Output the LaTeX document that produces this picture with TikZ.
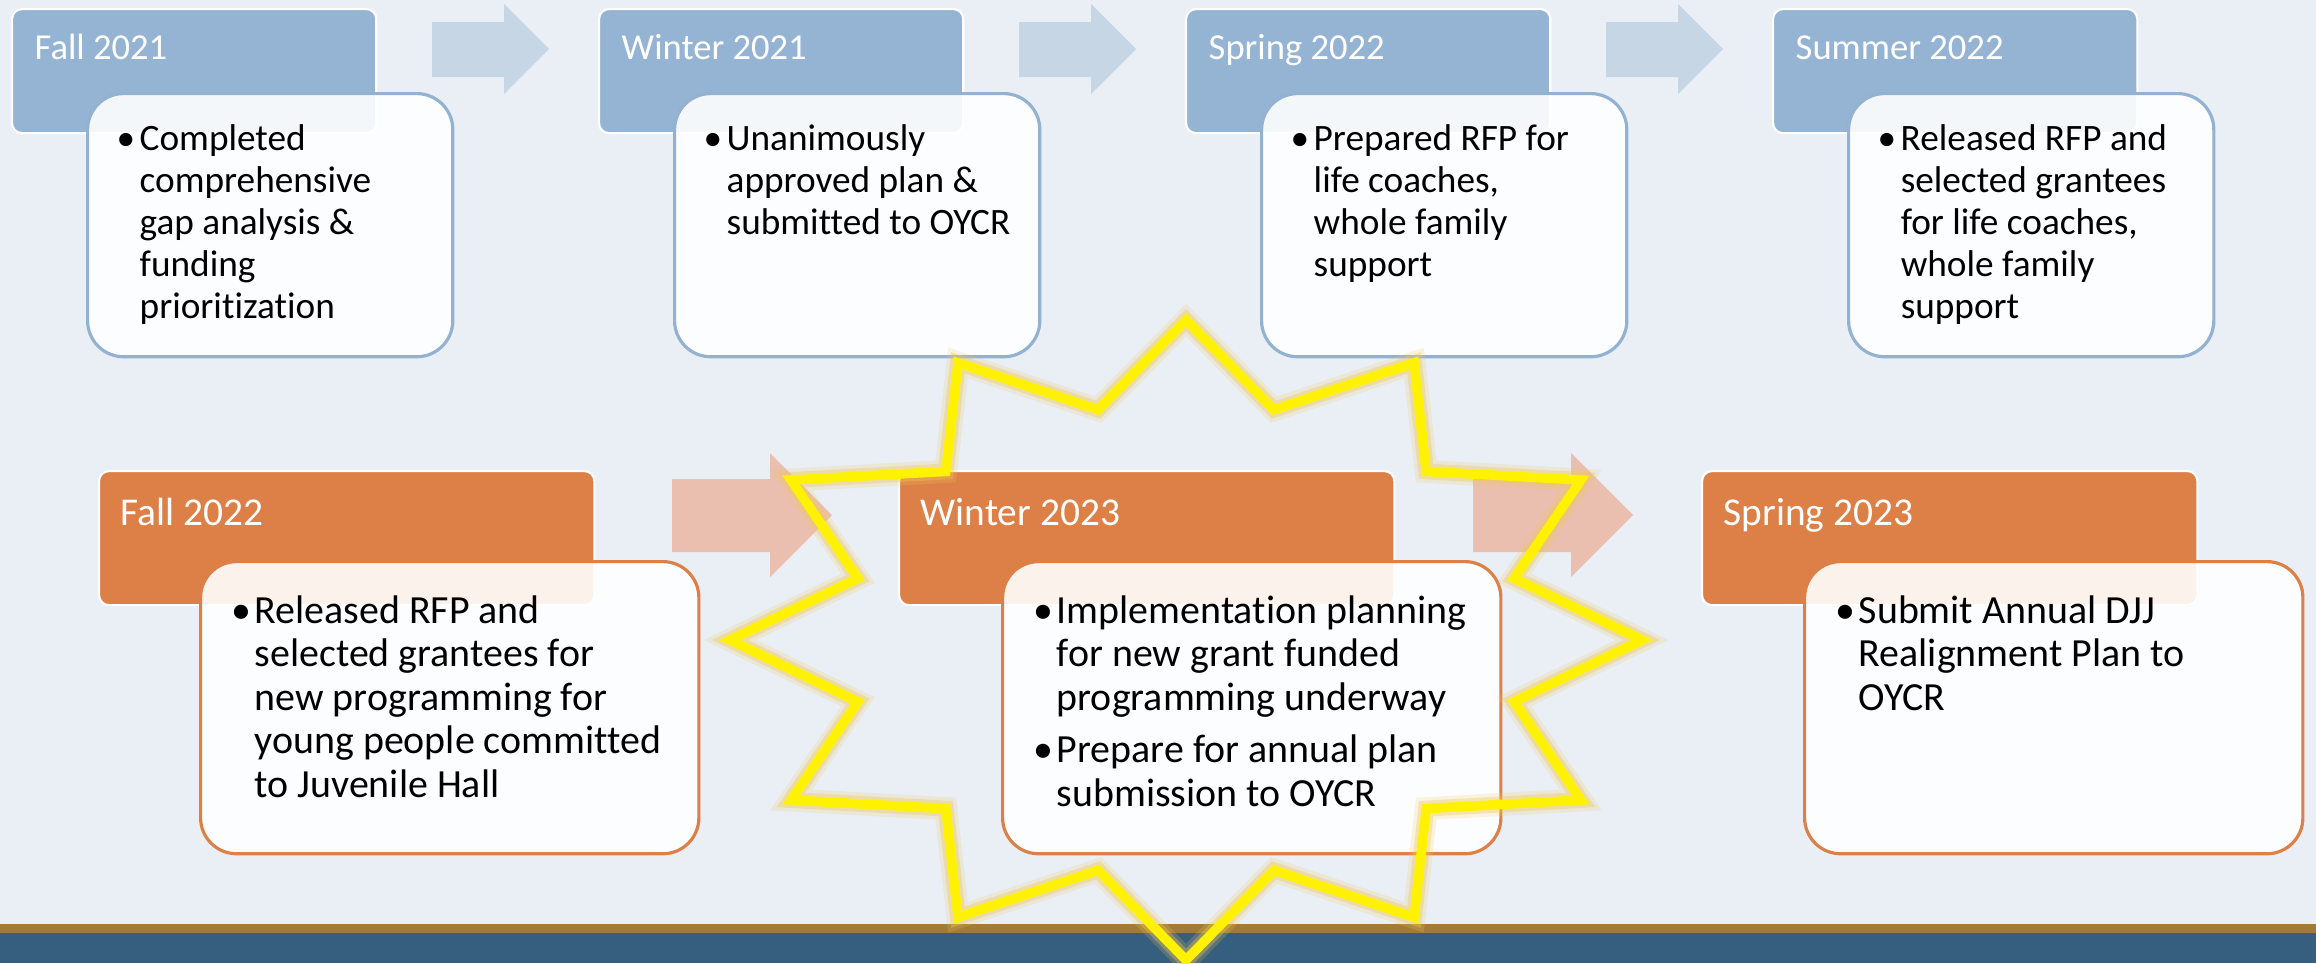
\documentclass[tikz,border=0pt]{standalone}
\usepackage{fontspec}
\setmainfont[Ligatures=NoCommon]{Carlito}
\usetikzlibrary{calc}
\definecolor{pagebg}{HTML}{EAEFF6}
\definecolor{hdblue}{HTML}{95B3D3}
\definecolor{arrblue}{HTML}{C6D6E5}
\definecolor{lnblue}{HTML}{93B1D0}
\definecolor{hdorange}{HTML}{DD8047}
\definecolor{arrorange}{HTML}{EABFAF}
\definecolor{bandgold}{HTML}{A07C38}
\definecolor{bandblue}{HTML}{365E7E}
\definecolor{glowcol}{HTML}{F0C75A}
\newlength{\bulind}
\setlength{\bulind}{0.23cm}
\newcommand{\itm}{\par\hangindent=\bulind\hangafter=1\noindent\hbox to \bulind{\textbullet\hss}}
\newcommand{\nxt}{\par\vspace{2.6pt}\itm}
\tikzset{
	hdtop/.style={rectangle, rounded corners=1mm, fill=hdblue, draw=white, line width=0.6pt, inner sep=0pt, minimum width=3.64cm, minimum height=1.24cm, anchor=north west},
	hdbot/.style={hdtop, fill=hdorange, minimum width=4.95cm, minimum height=1.34cm},
	boxtop/.style={rectangle, rounded corners=3.6mm, fill=white, fill opacity=0.9, draw=lnblue, line width=0.9pt, inner sep=0pt, minimum width=3.65cm, minimum height=2.63cm, anchor=north west},
	boxbot/.style={boxtop, draw=hdorange, minimum width=4.98cm, minimum height=2.92cm},
	lbltop/.style={anchor=base west, inner sep=0pt, text=white, font=\fontsize{10.4}{12}\selectfont},
	lblbot/.style={lbltop, font=\fontsize{11.2}{12.4}\selectfont},
	txttop/.style={anchor=base west, inner sep=0pt, font=\fontsize{10.6}{11.95}\selectfont},
	txtbot/.style={txttop, font=\fontsize{11.35}{12.4}\selectfont},
	blockarr/.style={fill=arrblue},
	blockarrbot/.style={fill=arrorange},
	burst/.style={draw=yellow, line width=0.95mm, line join=miter,
		preaction={draw=glowcol, line width=2.3mm, draw opacity=0.2},
		preaction={draw=glowcol, line width=1.6mm, draw opacity=0.35}}
}

\begin{document}
\begin{tikzpicture}[x=0.01cm, y=-0.01cm]
	\useasboundingbox (0,0) rectangle (2316,963);
	\fill[pagebg] (0,0) rectangle (2316,963);
	% bottom band
	\fill[bandgold] (0,924) rectangle (2316,933);
	\fill[bandblue] (0,933) rectangle (2316,963);

	% Top row: 2021 - 2022
	\begin{scope}
		\node[hdtop] (fall21) at (11,8) {};
		\node[hdtop] (win21) at (598,8) {};
		\node[hdtop] (spr22) at (1185,8) {};
		\node[hdtop] (sum22) at (1772,8) {};
		\node[lbltop] (fall21lbl) at ($(fall21.north west)+(23,51)$) {Fall 2021};
		\node[lbltop] (win21lbl) at ($(win21.north west)+(23,51)$) {Winter 2021};
		\node[lbltop] (spr22lbl) at ($(spr22.north west)+(23,51)$) {Spring 2022};
		\node[lbltop] (sum22lbl) at ($(sum22.north west)+(23,51)$) {Summer 2022};
		\node[boxtop] (fall21box) at (86,92) {};
		\node[boxtop] (win21box) at (673,92) {};
		\node[boxtop] (spr22box) at (1260,92) {};
		\node[boxtop] (sum22box) at (1847,92) {};
		\node[txttop] (fall21txt) at ($(fall21box.north west)+(30,58)$) {\parbox[t]{5cm}{\itm Completed\newline comprehensive\newline gap analysis \&\newline funding\newline prioritization}};
		\node[txttop] (win21txt) at ($(win21box.north west)+(30,58)$) {\parbox[t]{5cm}{\itm Unanimously\newline approved plan \&\newline submitted to OYCR}};
		\node[txttop] (spr22txt) at ($(spr22box.north west)+(30,58)$) {\parbox[t]{5cm}{\itm Prepared RFP for\newline life coaches,\newline whole family\newline support}};
		\node[txttop] (sum22txt) at ($(sum22box.north west)+(30,58)$) {\parbox[t]{5cm}{\itm Released RFP and\newline selected grantees\newline for life coaches,\newline whole family\newline support}};
		\fill[blockarr] (432,22) -- ++(72,0) -- ++(0,-18) -- ++(45,45) -- ++(-45,45) -- ++(0,-17) -- ++(-72,0) -- cycle;
		\fill[blockarr] (1019,22) -- ++(72,0) -- ++(0,-18) -- ++(45,45) -- ++(-45,45) -- ++(0,-17) -- ++(-72,0) -- cycle;
		\fill[blockarr] (1606,22) -- ++(72,0) -- ++(0,-18) -- ++(45,45) -- ++(-45,45) -- ++(0,-17) -- ++(-72,0) -- cycle;
	\end{scope}

	% Bottom row: 2022 - 2023
	\begin{scope}
		\node[hdbot] (fall22) at (98,470) {};
		\node[hdbot] (win23) at (898,470) {};
		\node[hdbot] (spr23) at (1701,470) {};
		\node[lblbot] (fall22lbl) at ($(fall22.north west)+(22,55)$) {Fall 2022};
		\node[lblbot] (win23lbl) at ($(win23.north west)+(22,55)$) {Winter 2023};
		\node[lblbot] (spr23lbl) at ($(spr23.north west)+(22,55)$) {Spring 2023};
		\node[boxbot] (fall22box) at (199,560) {};
		\node[boxbot] (win23box) at (1001,560) {};
		\node[boxbot] (spr23box) at (1803,560) {};
		\node[txtbot] (fall22txt) at ($(fall22box.north west)+(32,63)$) {\parbox[t]{6cm}{\itm Released RFP and\newline selected grantees for\newline new programming for\newline young people committed\newline to Juvenile Hall}};
		\node[txtbot] (win23txt) at ($(win23box.north west)+(32,63)$) {\parbox[t]{6cm}{\itm Implementation planning\newline for new grant funded\newline programming underway\nxt Prepare for annual plan\newline submission to OYCR}};
		\node[txtbot] (spr23txt) at ($(spr23box.north west)+(32,63)$) {\parbox[t]{6cm}{\itm Submit Annual DJJ\newline Realignment Plan to\newline OYCR}};
		\fill[blockarrbot] (672,479) -- ++(98,0) -- ++(0,-26) -- ++(62,62) -- ++(-62,62) -- ++(0,-25) -- ++(-98,0) -- cycle;
		\fill[blockarrbot] (1473,479) -- ++(98,0) -- ++(0,-26) -- ++(62,62) -- ++(-62,62) -- ++(0,-25) -- ++(-98,0) -- cycle;
	\end{scope}

	% starburst round Winter 2023
	\draw[burst] (1186,320) \foreach \k [evaluate=\k as \r using {0.745+0.255*(1-mod(\k,2))}] in {1,...,23} { -- ({1186+456*\r*sin(15*\k)},{640-320*\r*cos(15*\k)}) } -- cycle;
\end{tikzpicture}
\end{document}
